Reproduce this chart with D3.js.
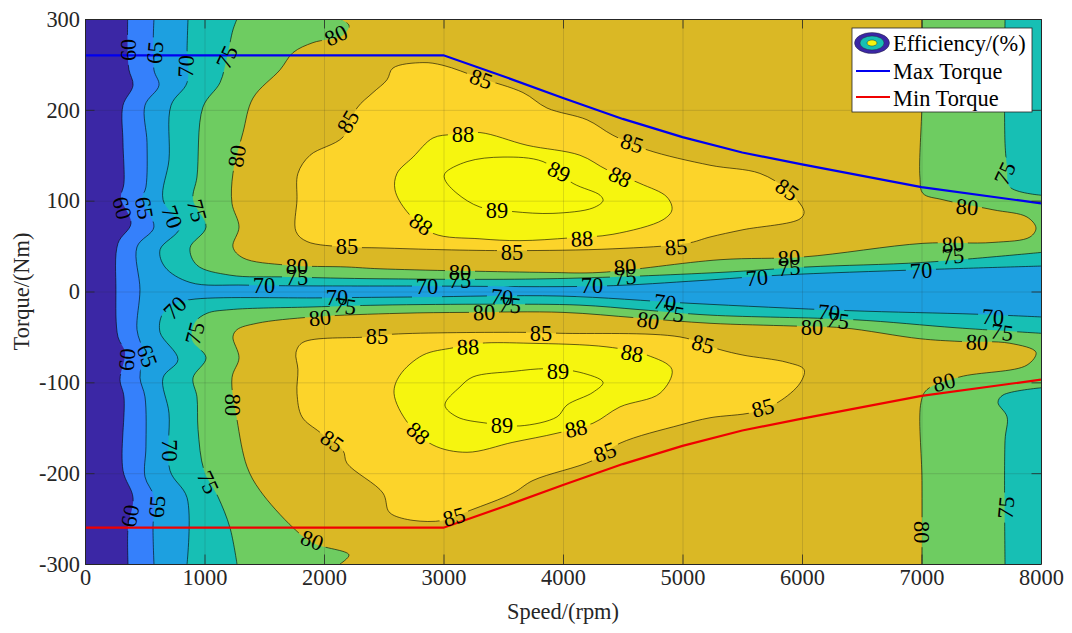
<!DOCTYPE html>
<html><head><meta charset="utf-8">
<script src="https://cdn.jsdelivr.net/npm/d3@7/dist/d3.min.js"></script>
<style>html,body{margin:0;padding:0;background:#fff}svg{display:block}text{font-family:"Liberation Serif",serif}</style>
</head><body><svg id="chart" width="1072" height="633"></svg>
<script>
// All contour points are [speed rpm, torque Nm]
const contour60=[[357,300],[357,263],[368,244],[402,227],[318,205],[318,164],[326,119],[301,103],[385,75],[276,53],[259,2],[276,-50],[335,-67],[293,-97],[326,-116],[318,-197],[402,-227],[360,-260],[360,-300]];
const contour65=[[577,300],[577,244],[619,227],[502,205],[519,164],[510,115],[477,101],[577,71],[435,49],[460,2],[435,-42],[485,-67],[460,-95],[502,-116],[510,-171],[502,-204],[577,-226],[569,-260],[577,-300]];
const contour70Upper=[[862,300],[854,266],[854,230],[720,205],[703,145],[653,101],[795,71],[628,46],[669,27],[879,10],[1356,7],[2887,6],[4310,6],[5146,12],[5816,18],[7012,24],[8000,28]];
const contour70Lower=[[8000,-28],[7464,-25],[6376,-21],[5063,-13],[3975,-5],[2803,-6],[1992,-7],[879,-9],[728,-15],[644,-26],[628,-45],[778,-75],[653,-95],[703,-134],[711,-197],[854,-227],[854,-300]];
const contour75Upper=[[1272,300],[1238,288],[1188,258],[1130,230],[987,203],[937,126],[904,101],[1013,71],[879,48],[937,29],[1213,18],[1690,16],[2469,14],[3866,14],[5314,21],[6042,27],[7012,32],[8000,43]];
const contour75CornerTop=[[8000,106],[7740,115],[7716,137],[7699,163],[7699,300]];
const contour75Lower=[[8000,-46],[7297,-40],[6427,-31],[5230,-26],[4644,-20],[4142,-15],[3414,-14],[2469,-15],[1908,-17],[1213,-20],[1021,-24],[920,-34],[895,-53],[1013,-73],[904,-95],[937,-116],[946,-152],[996,-197],[1113,-226],[1213,-260],[1272,-300]];
const contour75CornerBottom=[[7699,-300],[7699,-164],[7716,-138],[7640,-122],[7682,-114],[8000,-106]];
const contour80Upper=[[2134,300],[2209,293],[2159,282],[1908,274],[1741,263],[1632,244],[1406,213],[1322,175],[1238,130],[1230,97],[1289,71],[1238,49],[1322,37],[1690,29],[2192,27],[2469,25],[3866,21],[4310,21],[5314,35],[6008,38],[7012,53],[7598,54],[7908,60],[7958,70],[7883,82],[7598,90],[7180,101],[7012,108],[6987,126],[7004,210],[7004,300]];
const contour80Lower=[[2134,-300],[2209,-290],[1908,-277],[1741,-260],[1464,-219],[1356,-193],[1272,-141],[1230,-95],[1289,-73],[1238,-50],[1272,-42],[1439,-35],[1908,-28],[2636,-24],[3197,-23],[4000,-23],[4619,-29],[5230,-35],[5925,-38],[6343,-40],[6987,-52],[7322,-55],[7740,-57],[7958,-67],[7883,-81],[7322,-94],[7046,-108],[6996,-122],[7004,-208],[7004,-300]];
const contour85Upper=[[2527,233],[2577,246],[2828,252],[2996,249],[3305,235],[3665,219],[3866,202],[4201,189],[4418,172],[4703,156],[5230,139],[5648,130],[5874,112],[6017,88],[5983,80],[5506,68],[5230,60],[5038,53],[4418,47],[3581,45],[2996,46],[2469,48],[2192,49],[1858,55],[1766,66],[1774,101],[1782,130],[1883,150],[2159,170],[2276,202],[2410,219]];
const contour85Lower=[[1766,-67],[1824,-56],[2360,-50],[2577,-47],[3665,-45],[3975,-46],[4979,-50],[5314,-64],[5506,-70],[5874,-78],[6017,-86],[5983,-101],[5799,-122],[5590,-133],[5230,-139],[4979,-147],[4477,-167],[4251,-186],[3749,-208],[3581,-222],[3222,-241],[2996,-252],[2745,-252],[2577,-246],[2536,-241],[2494,-222],[2192,-189],[2159,-175],[1966,-155],[1816,-138],[1774,-112],[1782,-86]];
const contour88Upper=[[3079,173],[2912,169],[2745,148],[2611,130],[2594,112],[2694,88],[2912,64],[3305,58],[3640,56],[4058,59],[4418,63],[4837,79],[4912,90],[4870,104],[4644,119],[4368,134],[4142,150],[3699,161],[3305,175]];
const contour88Lower=[[3305,-57],[3079,-62],[2828,-70],[2636,-92],[2586,-112],[2703,-145],[2912,-169],[3197,-177],[3581,-166],[3950,-156],[4251,-145],[4477,-127],[4812,-112],[4912,-86],[4703,-70],[4368,-61],[3724,-57]];
const contour89Upper=[[3012,130],[3197,143],[3498,148],[3833,143],[4084,119],[4310,106],[4335,100],[4251,92],[3916,86],[3581,88],[3305,93],[3113,108],[3012,123]];
const contour89Lower=[[3012,-125],[3138,-105],[3247,-94],[3581,-88],[3866,-85],[4142,-89],[4335,-100],[4251,-111],[4033,-125],[3950,-138],[3640,-148],[3364,-145],[3113,-138]];

const torqueSpeeds=[0,3000,3500,4000,4500,5000,5500,6000,7000,8000];
const maxTorque=[260,260,237,213,190,170,153,140,115,97];
const minTorque=[-260,-260,-237,-213,-190,-170,-153,-140,-115,-97];

const levelNames=[60,65,70,75,80,85,88,89];
const baseColor="#3b27a5";
const levelColors=["#3580fb","#1da0e0","#17bfb4","#6ecc61","#dab825","#fcd42a","#f6f50f","#f8f90c"];

const xTicks=[0,1000,2000,3000,4000,5000,6000,7000,8000];
const yTicks=[-300,-200,-100,0,100,200,300];
const xTitle="Speed/(rpm)", yTitle="Torque/(Nm)";
const legendNames=["Efficiency/(%)","Max Torque","Min Torque"];

const labelValues=[60,65,70,75,80,85,80,60,65,70,75,85,80,75,70,70,75,80,85,70,75,60,65,80,70,85,75,65,60,80,85,88,89,88,85,89,88,85,88,85,80,75,70,80,75,70,70,75,80,85,88,89,88,88,89,88,85,85,70,75,80,85,85,80,80,75,80,75,70,70,75,70,75,80,85,80,70,75,80,75,80];
const labelSpeeds=[360,586,845,1188,2100,2201,1272,310,494,728,937,2192,1774,1774,1498,2109,2176,1966,2443,753,920,351,519,1238,711,2067,1029,602,377,1900,3314,3163,3966,4477,4577,3448,2812,3573,4159,4946,3138,3138,2862,4519,4519,4243,3489,3556,3339,3816,3205,3958,4577,2787,3489,4109,4351,3088,4853,4920,4711,5172,5874,7381,7263,7263,5891,5891,5623,6996,7699,6226,6301,6083,5673,7188,7598,7673,7464,7707,6996];
const labelTorques=[266,263,248,258,282,187,149,92,92,82,89,49,28,15,7,-7,-16,-29,-50,-18,-46,-75,-71,-125,-175,-165,-210,-237,-247,-274,234,173,132,126,163,89,74,43,58,49,21,12,5,27,16,7,-6,-15,-23,-46,-61,-88,-68,-156,-148,-151,-177,-248,-12,-24,-32,-58,112,93,52,39,37,26,15,23,130,-23,-32,-40,-128,-100,-28,-45,-56,-238,-265];
const labelAngles=[-90,-85,-88,-65,-25,-60,-82,75,80,70,75,0,0,0,0,0,8,-5,0,-45,-75,-85,70,90,90,35,65,-85,-80,20,20,0,25,25,18,0,35,0,-2,-5,0,0,0,-5,-5,0,5,5,-3,0,-2,0,10,40,0,-12,-20,-15,8,10,10,15,35,5,-5,-5,-5,-5,-5,-3,-65,5,8,0,-15,-15,3,8,3,-85,90];

const L=85,R=1041,T=19,B=564,W=R-L,H=B-T;
const svg=d3.select("#chart");
const x=d3.scaleLinear().domain([0,8000]).range([L,R]);
const y=d3.scaleLinear().domain([-300,300]).range([B,T]);
const ink="#262626";
const FS=22.4;

const smooth=d3.line().x(d=>x(d[0])).y(d=>y(d[1])).curve(d3.curveCatmullRom.alpha(0.5));
const smoothClosed=d3.line().x(d=>x(d[0])).y(d=>y(d[1])).curve(d3.curveCatmullRomClosed.alpha(0.5));
const straight=d3.line().x(d=>x(d[0])).y(d=>y(d[1]));
const topRight=[8000,300], bottomRight=[8000,-300];
const pt=d=>"L"+x(d[0])+","+y(d[1]);

// region descriptions built from the arrays
const regions=[
 {level:60,d:smooth(contour60)+pt(bottomRight)+pt(topRight)+"Z",lines:[contour60]},
 {level:65,d:smooth(contour65)+pt(bottomRight)+pt(topRight)+"Z",lines:[contour65]},
 {level:70,d:smooth(contour70Upper)+pt(topRight)+"Z",lines:[contour70Upper]},
 {level:70,d:smooth(contour70Lower)+pt(bottomRight)+"Z",lines:[contour70Lower]},
 {level:75,d:smooth(contour75Upper)+"L"+smooth(contour75CornerTop).slice(1)+"Z",lines:[contour75Upper,contour75CornerTop]},
 {level:75,d:smooth(contour75Lower)+"L"+smooth(contour75CornerBottom).slice(1)+"Z",lines:[contour75Lower,contour75CornerBottom]},
 {level:80,d:smooth(contour80Upper)+"Z",lines:[contour80Upper]},
 {level:80,d:smooth(contour80Lower)+"Z",lines:[contour80Lower]},
 {level:85,d:smoothClosed(contour85Upper),rings:[contour85Upper]},
 {level:85,d:smoothClosed(contour85Lower),rings:[contour85Lower]},
 {level:88,d:smoothClosed(contour88Upper),rings:[contour88Upper]},
 {level:88,d:smoothClosed(contour88Lower),rings:[contour88Lower]},
 {level:89,d:smoothClosed(contour89Upper),rings:[contour89Upper]},
 {level:89,d:smoothClosed(contour89Lower),rings:[contour89Lower]}
];
const color=d3.scaleOrdinal().domain(levelNames).range(levelColors);

const labels=labelValues.map((v,i)=>({v,s:labelSpeeds[i],t:labelTorques[i],a:labelAngles[i]}));
const defs=svg.append("defs");
defs.append("clipPath").attr("id","plotClip").append("rect").attr("x",L).attr("y",T).attr("width",W).attr("height",H);
levelNames.forEach(lv=>{
  const m=defs.append("mask").attr("id","gap"+lv).attr("maskUnits","userSpaceOnUse")
    .attr("x",0).attr("y",0).attr("width",1072).attr("height",633);
  m.append("rect").attr("width",1072).attr("height",633).attr("fill","#fff");
  m.selectAll("rect.g").data(labels.filter(d=>d.v===lv)).join("rect").attr("class","g")
    .attr("x",-15).attr("y",-11).attr("width",30).attr("height",22).attr("fill","#000")
    .attr("transform",d=>`translate(${x(d.s)},${y(d.t)}) rotate(${d.a})`);
});

const plot=svg.append("g").attr("clip-path","url(#plotClip)");
plot.append("rect").attr("x",L).attr("y",T).attr("width",W).attr("height",H).attr("fill",baseColor);
plot.append("g").selectAll("path").data(regions).join("path").attr("d",d=>d.d).attr("fill",d=>color(d.level));

// grid
const grid=svg.append("g");
grid.append("g").attr("transform",`translate(0,${B})`)
  .call(d3.axisBottom(x).tickValues(xTicks).tickSize(-H).tickFormat(""))
  .call(g=>g.select(".domain").remove());
grid.append("g").attr("transform",`translate(${L},0)`)
  .call(d3.axisLeft(y).tickValues(yTicks).tickSize(-W).tickFormat(""))
  .call(g=>g.select(".domain").remove());
grid.selectAll("line").attr("stroke",ink).attr("stroke-opacity",0.15).attr("stroke-width",1);

// contour lines with gaps under labels
const lineG=svg.append("g").attr("clip-path","url(#plotClip)");
regions.forEach(r=>{
  const g=lineG.append("g").attr("mask",`url(#gap${r.level})`).attr("fill","none").attr("stroke","#000").attr("stroke-width",0.6);
  (r.lines||[]).forEach(l=>g.append("path").attr("d",smooth(l)));
  (r.rings||[]).forEach(l=>g.append("path").attr("d",smoothClosed(l)));
});

// torque curves
const series=torqueSpeeds.map((s,i)=>({s,max:maxTorque[i],min:minTorque[i]}));
svg.append("path").attr("fill","none").attr("stroke","#0000f0").attr("stroke-width",2.2).attr("d",straight(series.map(d=>[d.s,d.max])));
svg.append("path").attr("fill","none").attr("stroke","#f00000").attr("stroke-width",2.2).attr("d",straight(series.map(d=>[d.s,d.min])));

// contour labels
svg.append("g").selectAll("text").data(labels).join("text")
  .attr("transform",d=>`translate(${x(d.s)},${y(d.t)}) rotate(${d.a})`)
  .attr("text-anchor","middle").attr("dominant-baseline","central")
  .attr("font-size",FS).attr("fill","#000").text(d=>d.v);

// axes
const tick=9.5;
const style=g=>{g.selectAll("line").attr("stroke",ink).attr("stroke-width",0.8);g.select(".domain").attr("stroke",ink).attr("stroke-width",1);
  g.selectAll("text").attr("font-size",FS).attr("font-family",'"Liberation Serif",serif').attr("fill",ink);};
const fmt=d=>String(d);
svg.append("g").attr("transform",`translate(0,${B})`).call(d3.axisBottom(x).tickValues(xTicks).tickSizeInner(-tick).tickSizeOuter(0).tickPadding(5).tickFormat(fmt)).call(style);
svg.append("g").attr("transform",`translate(${L},0)`).call(d3.axisLeft(y).tickValues(yTicks).tickSizeInner(-tick).tickSizeOuter(0).tickPadding(5).tickFormat(fmt)).call(style);
svg.append("g").attr("transform",`translate(0,${T})`).call(d3.axisTop(x).tickValues(xTicks).tickSizeInner(-tick).tickSizeOuter(0).tickFormat("")).call(style);
svg.append("g").attr("transform",`translate(${R},0)`).call(d3.axisRight(y).tickValues(yTicks).tickSizeInner(-tick).tickSizeOuter(0).tickFormat("")).call(style);

svg.append("text").attr("x",(L+R)/2).attr("y",619).attr("text-anchor","middle").attr("font-size",FS).attr("fill",ink).text(xTitle);
svg.append("text").attr("transform",`translate(29,${(T+B)/2}) rotate(-90)`).attr("text-anchor","middle").attr("font-size",FS).attr("fill",ink).text(yTitle);

// legend
const lg=svg.append("g").attr("transform","translate(852,28)");
lg.append("rect").attr("x",0).attr("y",0).attr("width",180).attr("height",84).attr("fill","#fff").attr("stroke",ink).attr("stroke-width",0.8);
[[17.5,10.5,baseColor],[12,7,levelColors[2]],[5,3,"#f6f50f"]].forEach(e=>{
  lg.append("ellipse").attr("cx",20).attr("cy",15).attr("rx",e[0]).attr("ry",e[1]).attr("fill",e[2]).attr("stroke","#222").attr("stroke-width",0.4);
});
lg.append("line").attr("x1",4).attr("x2",38).attr("y1",43).attr("y2",43).attr("stroke","#0000f0").attr("stroke-width",1.8);
lg.append("line").attr("x1",4).attr("x2",38).attr("y1",69).attr("y2",69).attr("stroke","#f00000").attr("stroke-width",1.8);
legendNames.forEach((n,i)=>lg.append("text").attr("x",41).attr("y",[23,51,78][i]).attr("font-size",FS).attr("fill","#000").text(n));
</script></body></html>
